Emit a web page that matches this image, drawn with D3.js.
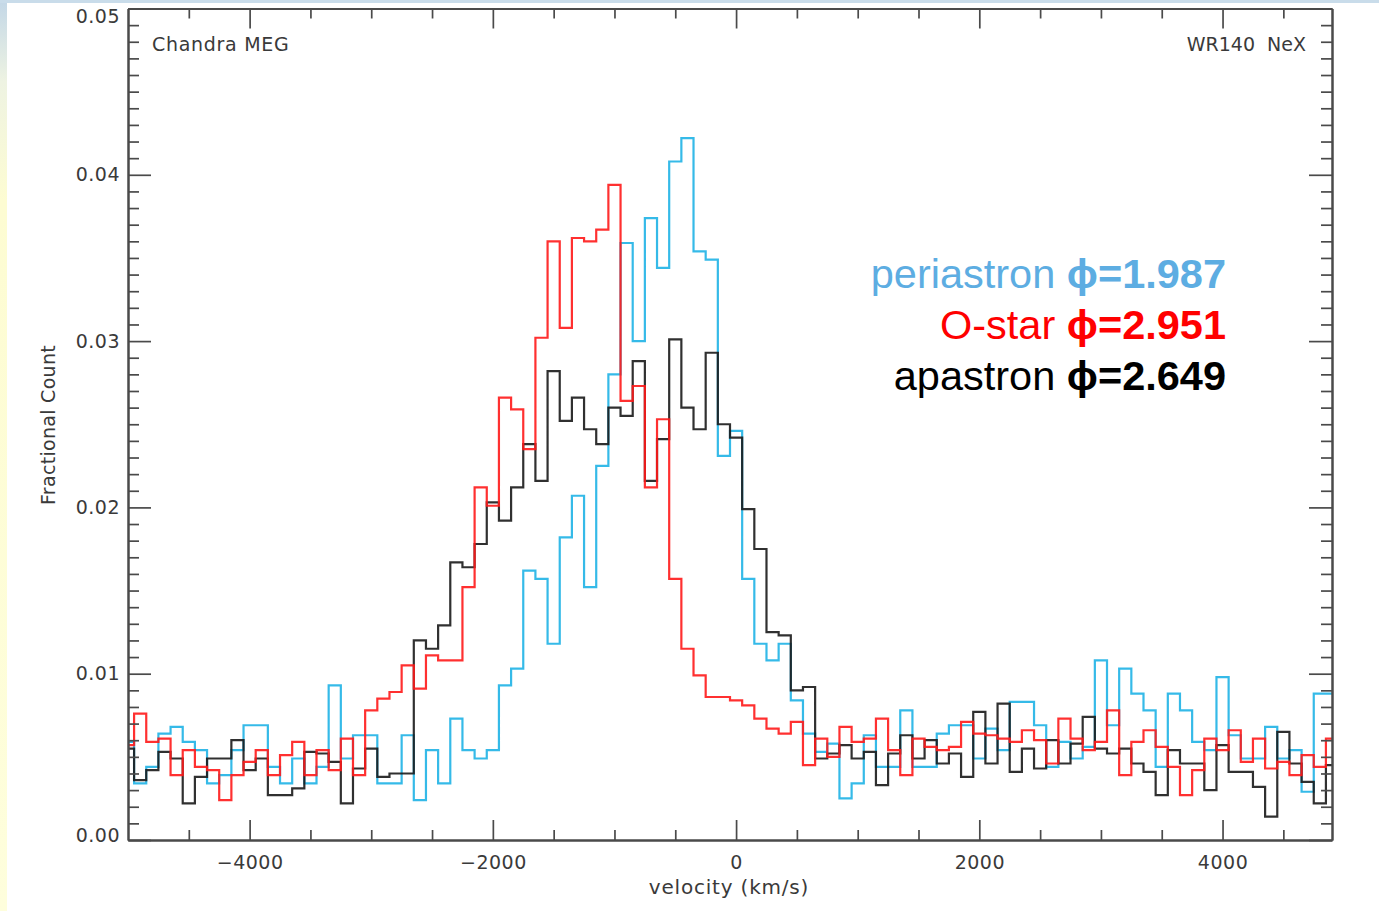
<!DOCTYPE html>
<html><head><meta charset="utf-8">
<script src="https://cdn.jsdelivr.net/npm/d3@7"></script>
<style>
html,body{margin:0;padding:0;background:#fff;}
svg{display:block;}
.idl{font-family:"DejaVu Sans",sans-serif;fill:#3a3a3a;}
.axis path,.axis line{stroke:#4a4a4a;}
.axis .domain{stroke-width:2;}
.axis line{stroke-width:1.7;}
.axis text{font-family:"DejaVu Sans",sans-serif;font-size:19px;fill:#3a3a3a;letter-spacing:0.5px;}
</style></head><body>
<svg id="c" width="1379" height="911"></svg>
<script>
// ---- data (bin centres in km/s, fractional counts) ----
const velocity = [-5000,-4900,-4800,-4700,-4600,-4500,-4400,-4300,-4200,-4100,
 -4000,-3900,-3800,-3700,-3600,-3500,-3400,-3300,-3200,-3100,
 -3000,-2900,-2800,-2700,-2600,-2500,-2400,-2300,-2200,-2100,
 -2000,-1900,-1800,-1700,-1600,-1500,-1400,-1300,-1200,-1100,
 -1000,-900,-800,-700,-600,-500,-400,-300,-200,-100,
 0,100,200,300,400,500,600,700,800,900,
 1000,1100,1200,1300,1400,1500,1600,1700,1800,1900,
 2000,2100,2200,2300,2400,2500,2600,2700,2800,2900,
 3000,3100,3200,3300,3400,3500,3600,3700,3800,3900,
 4000,4100,4200,4300,4400,4500,4600,4700,4800,4900];

const periastron = [0.0059,0.0034,0.0044,0.0064,0.0068,0.0059,0.0054,0.0034,0.0039,0.0054,
 0.0069,0.0069,0.0044,0.0034,0.0049,0.0034,0.0044,0.0093,0.0049,0.0063,
 0.0063,0.0034,0.0034,0.0063,0.0024,0.0054,0.0034,0.0073,0.0054,0.0049,
 0.0054,0.0093,0.0103,0.0162,0.0157,0.0118,0.0182,0.0207,0.0152,0.0225,
 0.0280,0.0359,0.0300,0.0374,0.0344,0.0408,0.0422,0.0354,0.0349,0.0231,
 0.0246,0.0157,0.0118,0.0108,0.0118,0.0084,0.0064,0.0053,0.0058,0.0025,
 0.0034,0.0063,0.0044,0.0044,0.0078,0.0044,0.0044,0.0064,0.0069,0.0069,
 0.0049,0.0067,0.0054,0.0083,0.0083,0.0069,0.0044,0.0059,0.0049,0.0056,
 0.0108,0.0069,0.0103,0.0088,0.0078,0.0044,0.0088,0.0078,0.0059,0.0054,
 0.0098,0.0063,0.0049,0.0049,0.0068,0.0049,0.0054,0.0029,0.0088,0.0088];

const ostar = [0.0057,0.0076,0.0059,0.0061,0.0039,0.0054,0.0044,0.0042,0.0024,0.0039,
 0.0047,0.0054,0.0039,0.0051,0.0059,0.0039,0.0054,0.0042,0.0061,0.0039,
 0.0078,0.0085,0.0089,0.0105,0.0091,0.0111,0.0108,0.0108,0.0152,0.0212,
 0.0201,0.0266,0.0259,0.0235,0.0302,0.0360,0.0308,0.0362,0.0360,0.0367,
 0.0394,0.0264,0.0273,0.0212,0.0253,0.0157,0.0115,0.0099,0.0086,0.0086,
 0.0084,0.0081,0.0073,0.0067,0.0064,0.0071,0.0045,0.0061,0.0050,0.0068,
 0.0059,0.0061,0.0073,0.0054,0.0039,0.0061,0.0056,0.0054,0.0056,0.0071,
 0.0064,0.0063,0.0061,0.0059,0.0066,0.0060,0.0046,0.0073,0.0061,0.0054,
 0.0059,0.0078,0.0039,0.0059,0.0066,0.0056,0.0044,0.0027,0.0042,0.0061,
 0.0054,0.0066,0.0047,0.0061,0.0043,0.0047,0.0039,0.0051,0.0044,0.0061];

const apastron = [0.0055,0.0036,0.0042,0.0053,0.0049,0.0022,0.0038,0.0049,0.0049,0.0060,
 0.0042,0.0049,0.0027,0.0027,0.0031,0.0053,0.0052,0.0047,0.0022,0.0043,
 0.0055,0.0038,0.0040,0.0040,0.0120,0.0115,0.0129,0.0167,0.0164,0.0178,
 0.0203,0.0192,0.0212,0.0238,0.0216,0.0282,0.0252,0.0266,0.0247,0.0238,
 0.0260,0.0255,0.0288,0.0216,0.0241,0.0301,0.0260,0.0247,0.0293,0.0250,
 0.0242,0.0199,0.0175,0.0125,0.0123,0.0090,0.0092,0.0049,0.0052,0.0057,
 0.0049,0.0053,0.0033,0.0052,0.0063,0.0049,0.0060,0.0046,0.0052,0.0038,
 0.0077,0.0046,0.0082,0.0041,0.0055,0.0043,0.0060,0.0046,0.0058,0.0074,
 0.0055,0.0052,0.0055,0.0046,0.0041,0.0027,0.0054,0.0046,0.0046,0.0030,
 0.0057,0.0041,0.0041,0.0032,0.0014,0.0065,0.0046,0.0035,0.0022,0.0045];

const xMajorTicks = [-4000,-2000,0,2000,4000];
const yMajorTicks = [0,0.01,0.02,0.03,0.04,0.05];
const legendNames = ["periastron ","O-star ","apastron "];
const legendPhases = ["\u03D5=1.987","\u03D5=2.951","\u03D5=2.649"];
const cornerLabels = ["Chandra MEG","WR140  NeX"];
const axisTitles = ["velocity (km/s)","Fractional Count"];

// ---- styles ----
const lineColors = ["#1fb2e6","#ff1a1a","#1a1a1a"];
const legendColors = ["#5dade2","#ff0000","#000000"];

const svg = d3.select("#c");
// slide background remnants
const defs = svg.append("defs");
const grad = defs.append("linearGradient").attr("id","lg").attr("x1",0).attr("y1",0).attr("x2",0).attr("y2",1);
grad.append("stop").attr("offset","0%").attr("stop-color","#c3d7e7");
grad.append("stop").attr("offset","9%").attr("stop-color","#eef3e2");
grad.append("stop").attr("offset","22%").attr("stop-color","#fdfcd2");
grad.append("stop").attr("offset","100%").attr("stop-color","#fefedc");
svg.append("rect").attr("x",0).attr("y",0).attr("width",7).attr("height",911).attr("fill","url(#lg)");
svg.append("rect").attr("x",0).attr("y",0).attr("width",1379).attr("height",3).attr("fill","#c9dcea");

const L=128,R=1332,T=8.5,B=840;
const x = d3.scaleLinear().domain([-5000,4900]).range([L,R]);
const y = d3.scaleLinear().domain([0,0.05]).range([B,T]);

defs.append("clipPath").attr("id","clip").append("rect")
  .attr("x",L).attr("y",T).attr("width",R-L).attr("height",B-T);

const line = d3.line().x((d,i)=>x(velocity[i])).y(d=>y(d)).curve(d3.curveStep);
const series = [periastron, apastron, ostar];
const seriesColor = [lineColors[0], lineColors[2], lineColors[1]];
const gl = svg.append("g").attr("clip-path","url(#clip)");
series.forEach((s,k)=>{
  gl.append("path").attr("d",line(s)).attr("fill","none")
    .attr("stroke",seriesColor[k]).attr("stroke-width",2.2)
    .attr("stroke-linejoin","miter").attr("stroke-opacity",0.9);
});

// minor ticks
const xMinor = x.ticks(20).filter(v=>!xMajorTicks.includes(v) && v>x.domain()[0]);
const yMinor = y.ticks(50).filter(v=>!yMajorTicks.some(t=>Math.abs(t-v)<1e-9));

function ax(gen, tx, ty){ return svg.append("g").attr("class","axis").attr("transform",`translate(${tx},${ty})`).call(gen); }

ax(d3.axisBottom(x).tickValues(xMinor).tickSize(-10).tickSizeOuter(0).tickFormat(""),0,B);
ax(d3.axisTop(x).tickValues(xMinor).tickSize(-10).tickSizeOuter(0).tickFormat(""),0,T);
ax(d3.axisTop(x).tickValues(xMajorTicks).tickSize(-20).tickSizeOuter(0).tickFormat(""),0,T);
ax(d3.axisBottom(x).tickValues(xMajorTicks).tickSize(-20).tickSizeOuter(0).tickPadding(16).tickFormat(d3.format("d")),0,B);

ax(d3.axisLeft(y).tickValues(yMinor).tickSize(-11).tickSizeOuter(0).tickFormat(""),L,0);
ax(d3.axisRight(y).tickValues(yMinor).tickSize(-11).tickSizeOuter(0).tickFormat(""),R,0);
ax(d3.axisRight(y).tickValues(yMajorTicks).tickSize(-23).tickSizeOuter(0).tickFormat(""),R,0);
const yl = ax(d3.axisLeft(y).tickValues(yMajorTicks).tickSize(-23).tickSizeOuter(0).tickPadding(8).tickFormat(d3.format(".2f")),L,0);
yl.selectAll(".tick text").filter(d=>d===0.05).attr("dy","0.71em");
yl.selectAll(".tick text").filter(d=>d===0).attr("dy","0.1em");

// corner labels
svg.append("text").attr("class","idl").attr("x",152).attr("y",51)
  .style("font-size","19px").style("letter-spacing","0.7px").text(cornerLabels[0]);
svg.append("text").attr("class","idl").attr("x",1306).attr("y",51).attr("text-anchor","end")
  .style("font-size","19px").style("white-space","pre").text(cornerLabels[1]);

// axis titles
svg.append("text").attr("class","idl").attr("x",729).attr("y",894).attr("text-anchor","middle")
  .style("font-size","20px").style("letter-spacing","0.8px").text(axisTitles[0]);
svg.append("text").attr("class","idl").attr("transform","translate(55,425) rotate(-90)")
  .attr("text-anchor","middle").style("font-size","19px").style("letter-spacing","0.3px").text(axisTitles[1]);

// legend
const lg = svg.append("g");
legendNames.forEach((n,i)=>{
  const t = lg.append("text").attr("x",1226).attr("y",288+i*51).attr("text-anchor","end")
    .style("font-family","'Liberation Sans',Arial,sans-serif").style("font-size","41.5px")
    .attr("fill",legendColors[i]);
  t.append("tspan").text(n);
  t.append("tspan").style("font-weight","bold").text(legendPhases[i]);
});
</script>
</body></html>
